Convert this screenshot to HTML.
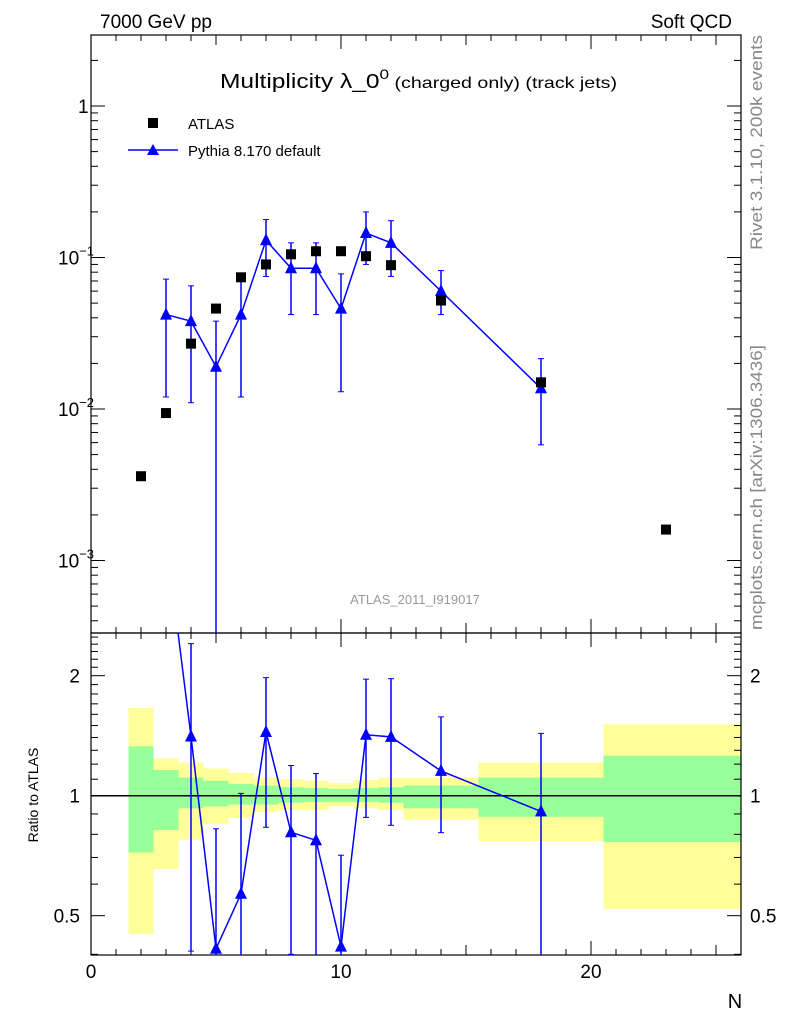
<!DOCTYPE html>
<html><head><meta charset="utf-8"><style>
html,body{margin:0;background:#fff;overflow:hidden;width:786px;height:1024px;}
svg{display:block;font-family:"Liberation Sans",sans-serif;}
</style></head><body>
<svg id="c" width="786" height="1024" xmlns="http://www.w3.org/2000/svg">
<text x="100" y="28" font-size="19">7000 GeV pp</text>
<text x="732" y="28" font-size="19" text-anchor="end">Soft QCD</text>
<text x="220" y="88" font-size="20" textLength="397" lengthAdjust="spacingAndGlyphs">Multiplicity λ_0<tspan font-size="14" dy="-9">0</tspan><tspan font-size="16" dy="9"> (charged only) (track jets)</tspan></text>
<text transform="translate(762,250) rotate(-90)" font-size="17" fill="#888" textLength="215" lengthAdjust="spacingAndGlyphs">Rivet 3.1.10,  200k events</text>
<text transform="translate(762,630) rotate(-90)" font-size="17" fill="#888" textLength="285" lengthAdjust="spacingAndGlyphs">mcplots.cern.ch [arXiv:1306.3436]</text>
<text x="415" y="604" font-size="13" fill="#999" text-anchor="middle">ATLAS_2011_I919017</text>
<text transform="translate(38,795) rotate(-90)" font-size="14" text-anchor="middle">Ratio to ATLAS</text>
<text x="735" y="1008" font-size="20" text-anchor="middle">N</text>
<g id="legend">
<rect x="148" y="118" width="10" height="10" fill="#000"/>
<text x="188" y="129" font-size="15">ATLAS</text>
<line x1="128" y1="150" x2="178" y2="150" stroke="#00f" stroke-width="1.5"/>
<polygon points="153,144 147,155 159,155" fill="#00f"/>
<text x="188" y="156" font-size="15">Pythia 8.170 default</text>
</g>
</svg>
<script>
const atlasX=[2,3,4,5,6,7,8,9,10,11,12,14,18,23];
const atlasY=[0.0036,0.0094,0.027,0.046,0.074,0.09,0.105,0.11,0.11,0.102,0.089,0.052,0.015,0.0016];
const pyX=[3,4,5,6,7,8,9,10,11,12,14,18];
const pyY=[0.042,0.038,0.019,0.042,0.13,0.085,0.085,0.046,0.145,0.125,0.06,0.0137];
const pyHi=[0.072,0.065,0.038,0.075,0.178,0.125,0.125,0.078,0.2,0.175,0.082,0.0215];
const pyLo=[0.012,0.011,0.0001,0.012,0.075,0.042,0.042,0.013,0.09,0.075,0.042,0.0058];
const binLo=[1.5,2.5,3.5,4.5,5.5,6.5,7.5,8.5,9.5,10.5,11.5,12.5,15.5,20.5];
const binHi=[2.5,3.5,4.5,5.5,6.5,7.5,8.5,9.5,10.5,11.5,12.5,15.5,20.5,26];
const yelUp=[1.66,1.24,1.21,1.17,1.14,1.11,1.10,1.09,1.075,1.095,1.11,1.11,1.21,1.51];
const yelDn=[0.45,0.655,0.775,0.85,0.88,0.91,0.92,0.92,0.94,0.93,0.92,0.87,0.77,0.52];
const grnUp=[1.33,1.16,1.11,1.09,1.07,1.06,1.05,1.045,1.04,1.045,1.05,1.06,1.11,1.26];
const grnDn=[0.72,0.82,0.93,0.94,0.95,0.95,0.96,0.965,0.965,0.965,0.96,0.93,0.885,0.765];
const xTicks=[0,10,20];
const ratioTicks=[2,1,0.5];

const svg=document.getElementById('c');
const NS='http://www.w3.org/2000/svg';
const L=91,R=741,T1=35,B1=633,T2=633,B2=955;
const X=v=>L+(v-0)*(R-L)/26;
const Y1=v=>106-151.5*Math.log10(v);
const Y2=v=>795.7-398.6*Math.log10(v);
function mk(tag,attrs,parent){const e=document.createElementNS(NS,tag);for(const k in attrs)e.setAttribute(k,attrs[k]);(parent||svg).appendChild(e);return e;}

const defs=mk('defs',{});
const c1=mk('clipPath',{id:'clip1'},defs);mk('rect',{x:L,y:T1,width:R-L,height:B1-T1},c1);
const c2=mk('clipPath',{id:'clip2'},defs);mk('rect',{x:L,y:T2,width:R-L,height:B2-T2},c2);

const gb=mk('g',{'clip-path':'url(#clip2)'});


for(let i=0;i<binLo.length;i++){
  const y=mk('rect',{x:X(binLo[i]),y:Y2(yelUp[i]),width:X(binHi[i])-X(binLo[i]),height:Y2(yelDn[i])-Y2(yelUp[i]),fill:'#ffff99'},gb);
  
  
  const g=mk('rect',{x:X(binLo[i]),y:Y2(grnUp[i]),width:X(binHi[i])-X(binLo[i]),height:Y2(grnDn[i])-Y2(grnUp[i]),fill:'#99ff99'},gb);
  
  
}
const ref=mk('line',{x1:L,x2:R,y1:Y2(1),y2:Y2(1),stroke:'#000','stroke-width':1.5});



const f1=mk('rect',{x:L,y:T1,width:R-L,height:B1-T1,fill:'none',stroke:'#000','stroke-width':1.2});


const f2=mk('rect',{x:L,y:T2,width:R-L,height:B2-T2,fill:'none',stroke:'#000','stroke-width':1.2});



for(let v=0;v<=26;v++){
  const len=(v%10===0)?14:(v%5===0?10:6);
  for(const [yb,yt] of [[B1,T1],[B2,T2]]){
    mk('line',{x1:X(v),x2:X(v),y1:yb,y2:yb-len,stroke:'#000'});
    mk('line',{x1:X(v),x2:X(v),y1:yt,y2:yt+len,stroke:'#000'});
  }
}
xTicks.forEach(v=>{const t=mk('text',{x:X(v),y:978,'font-size':19,'text-anchor':'middle'});t.textContent=v;

});

for(let e=-4;e<=0;e++){for(let m=1;m<10;m++){const v=m*Math.pow(10,e);const y=Y1(v);if(y<T1||y>B1)continue;const len=m===1?14:7;
mk('line',{x1:L,x2:L+len,y1:y,y2:y,stroke:'#000'});mk('line',{x1:R,x2:R-len,y1:y,y2:y,stroke:'#000'});}}
const mainLabels=[[1,'1'],[0.1,'10'],[0.01,'10'],[0.001,'10']];
const exps=['','−1','−2','−3'];
mainLabels.forEach((p,i)=>{const t=mk('text',{x:i===0?78:58,y:Y1(p[0])+7,'font-size':19});t.textContent=p[1];
if(exps[i]){const s=mk('tspan',{dy:-9,'font-size':13},t);s.textContent=exps[i];}

});

for(let v=0.4;v<=2.55;v+=0.1){const vv=Math.round(v*10)/10;const y=Y2(vv);if(y<T2||y>B2)continue;const maj=(vv===1||vv===2||vv===0.5);const len=maj?14:7;
mk('line',{x1:L,x2:L+len,y1:y,y2:y,stroke:'#000'});mk('line',{x1:R,x2:R-len,y1:y,y2:y,stroke:'#000'});}
ratioTicks.forEach(v=>{const y=Y2(v)+7;
const a=mk('text',{x:80,y:y,'font-size':19,'text-anchor':'end'});a.textContent=v;


const b=mk('text',{x:750,y:y,'font-size':19});b.textContent=v;

});

const gm=mk('g',{'clip-path':'url(#clip1)'});
mk('polyline',{points:pyX.map((x,i)=>X(x)+','+Y1(pyY[i])).join(' '),fill:'none',stroke:'#00f','stroke-width':1.5},gm);
pyX.forEach((x,i)=>{
  const e=mk('line',{x1:X(x),x2:X(x),y1:Y1(pyHi[i]),y2:Math.min(Y1(pyLo[i]),B1+5),stroke:'#00f','stroke-width':1.5},gm);
  
  
  mk('line',{x1:X(x)-3,x2:X(x)+3,y1:Y1(pyHi[i]),y2:Y1(pyHi[i]),stroke:'#00f'},gm);
  mk('line',{x1:X(x)-3,x2:X(x)+3,y1:Y1(pyLo[i]),y2:Y1(pyLo[i]),stroke:'#00f'},gm);
  const px=X(x),py=Y1(pyY[i]);
  const m=mk('polygon',{points:`${px},${py-7} ${px-6},${py+5} ${px+6},${py+5}`,fill:'#00f'},gm);
  
  
});
atlasX.forEach((x,i)=>{
  const m=mk('rect',{x:X(x)-5,y:Y1(atlasY[i])-5,width:10,height:10,fill:'#000'},gm);
  
  
});

const gr=mk('g',{'clip-path':'url(#clip2)'});
const aOf=x=>atlasY[atlasX.indexOf(x)];
mk('polyline',{points:pyX.map((x,i)=>X(x)+','+Y2(pyY[i]/aOf(x))).join(' '),fill:'none',stroke:'#00f','stroke-width':1.5},gr);
pyX.forEach((x,i)=>{
  const a=aOf(x);const px=X(x),py=Y2(pyY[i]/a);
  if(py<T2) return;
  const hi=Y2(pyHi[i]/a),lo=Y2(pyLo[i]/a);
  const e=mk('line',{x1:px,x2:px,y1:hi,y2:lo,stroke:'#00f','stroke-width':1.5},gr);
  
  
  mk('line',{x1:px-3,x2:px+3,y1:hi,y2:hi,stroke:'#00f'},gr);
  mk('line',{x1:px-3,x2:px+3,y1:lo,y2:lo,stroke:'#00f'},gr);
  const m=mk('polygon',{points:`${px},${py-7} ${px-6},${py+5} ${px+6},${py+5}`,fill:'#00f'},gr);
  
  
});
</script>
</body></html>
